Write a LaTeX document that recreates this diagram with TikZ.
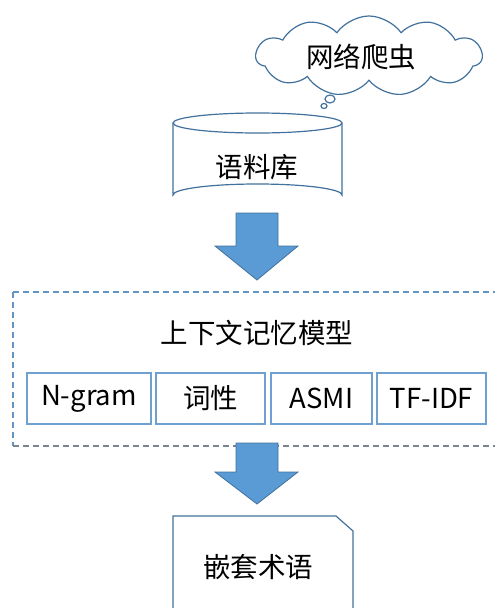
\documentclass[tikz,border=0pt]{standalone}
\usepackage{fontspec}
\setmainfont{Noto Sans CJK SC}
\usetikzlibrary{shapes.symbols,shapes.geometric}
\definecolor{edge}{HTML}{41719C}
\definecolor{fillblue}{HTML}{5B9BD5}
\definecolor{boxline}{HTML}{6FA0D2}
\tikzset{
  label font/.style={font=\fontsize{27.5}{32}\selectfont},
  outline/.style={draw=edge, line width=1.2pt},
  termbox/.style={draw=boxline, line width=1.2pt, minimum height=51pt, inner sep=0pt, label font},
  flowarrow/.style={fill=fillblue, draw=edge, line width=0.8pt},
}
\begin{document}
\begin{tikzpicture}[x=1pt,y=-1pt]
\useasboundingbox (0,0) rectangle (495,608);

% thought cloud with its trailing bubbles
\node[cloud, outline, cloud puffs=11, cloud puff arc=110, aspect=2.7,
      minimum width=226pt, minimum height=80pt, inner sep=0pt] (cloud) at (369,56) {};
\node[label font] (crawler) at (361,57) {网络爬虫};
\draw[outline] (330,99) ellipse (5pt and 4pt);
\draw[outline] (324,106) ellipse (3pt and 2.5pt);

% corpus cylinder
\draw[outline, fill=white] (173,123) -- (173,195) arc[start angle=180, end angle=360, x radius=84.5, y radius=11] -- (342,123);
\draw[outline, fill=white] (257.5,123) ellipse (84.5pt and 10pt);
\node[label font] (corpus) at (257,167) {语料库};

% arrow: corpus -> model
\draw[flowarrow] (236,213) -- (278,213) -- (278,246) -- (298,246) -- (257,280) -- (215,246) -- (236,246) -- cycle;

% dashed frame of the context memory model
\draw[draw=fillblue!80!gray, line width=1.3pt, dash pattern=on 6pt off 4pt] (13,292) -- (500,292);
\draw[draw=fillblue!80!gray, line width=1.3pt, dash pattern=on 6pt off 4pt] (13,292) -- (13,446);
\draw[draw=gray!80!fillblue, line width=1.3pt, dash pattern=on 6pt off 4pt] (13,446) -- (500,446);
\node[label font] (model) at (257,333) {上下文记忆模型};

% feature boxes
\node[termbox, minimum width=124pt] (ngram) at (89,398.5) {N-gram};
\node[termbox, minimum width=109pt] (pos) at (210.5,398.5) {词性};
\node[termbox, minimum width=101pt] (asmi) at (321.5,398.5) {ASMI};
\node[termbox, minimum width=109pt] (tfidf) at (431.5,398.5) {TF-IDF};

% arrow: model -> nested terms
\draw[flowarrow] (236,443) -- (278,443) -- (278,472) -- (298,472) -- (257,504) -- (215,472) -- (236,472) -- cycle;

% snipped-corner box of nested terms
\draw[outline] (173,612) -- (173,516) -- (336,516) -- (353,531) -- (353,612);
\node[label font] (nested) at (258,567) {嵌套术语};
\end{tikzpicture}
\end{document}
